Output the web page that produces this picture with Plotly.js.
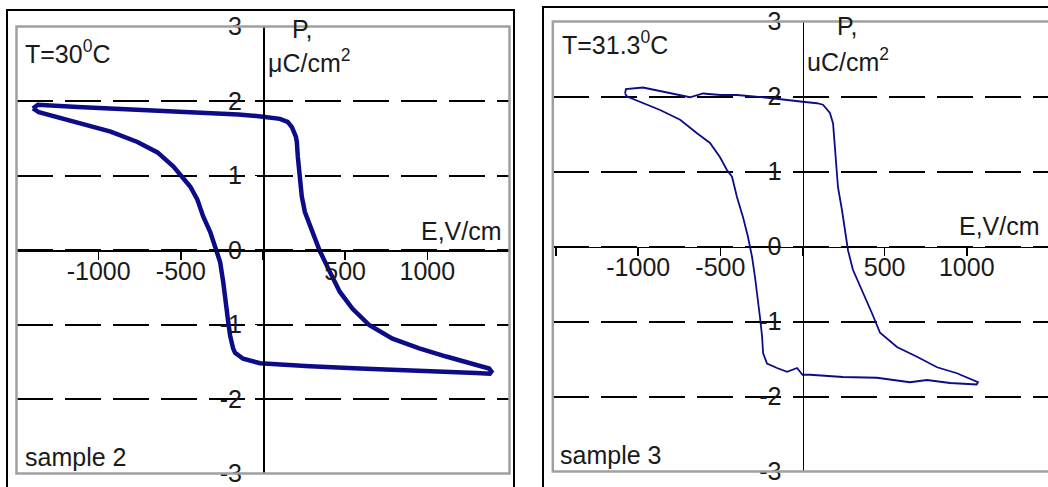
<!DOCTYPE html>
<html>
<head>
<meta charset="utf-8">
<script src="https://cdn.plot.ly/plotly-3.0.1.min.js"></script>
<style>
html,body{margin:0;padding:0;overflow:hidden;background:#fff;}
#chart{width:1056px;height:487px;}
</style>
</head>
<body>
<div id="chart"></div>
<script>
// ---- data ----
// sample 2, T = 30 C  (E in V/cm, P in uC/cm2), loop traced top branch then bottom branch
const s2E = [-1400,-1370,-1127,-900,-727,-500,-321,-150,0,103,150,176,200,206,212,224,236,255,280,303,345,406,467,545,648,788,951,1115,1255,1376,1390,
             1380,1297,994,588,285,100,-18,-121,-170,-182,-200,-212,-224,-242,-261,-291,-321,-364,-400,-442,-491,-545,-642,-764,-927,-1127,-1273,-1364,-1400];
const s2P = [1.90,1.95,1.92,1.90,1.88,1.86,1.84,1.82,1.79,1.76,1.72,1.65,1.52,1.45,1.25,0.99,0.72,0.51,0.36,0.24,-0.01,-0.29,-0.56,-0.79,-1.01,-1.19,-1.32,-1.43,-1.52,-1.59,-1.63,
             -1.66,-1.65,-1.63,-1.59,-1.56,-1.54,-1.52,-1.46,-1.38,-1.32,-1.15,-0.96,-0.69,-0.43,-0.16,0.05,0.24,0.45,0.68,0.85,0.99,1.12,1.31,1.45,1.59,1.71,1.79,1.85,1.90];

// sample 3, T = 31.3 C
const s3E = [-1080,-1075,-971,-806,-685,-605,-500,-399,-198,0,88,125,167,186,198,210,216,240,259,277,307,362,423,472,575,697,819,940,1038,1068,
             1060,898,758,654,453,246,46,0,-33,-94,-155,-216,-240,-246,-259,-271,-289,-307,-332,-362,-399,-429,-460,-502,-563,-642,-745,-867,-989,-1068,-1080];
const s3P = [2.04,2.10,2.12,2.04,1.99,2.04,2.02,2.02,1.98,1.93,1.91,1.89,1.78,1.64,1.29,1.02,0.79,0.49,0.18,-0.05,-0.31,-0.58,-0.89,-1.15,-1.34,-1.47,-1.61,-1.69,-1.78,-1.81,
             -1.84,-1.82,-1.78,-1.81,-1.75,-1.74,-1.71,-1.71,-1.62,-1.67,-1.62,-1.56,-1.42,-1.20,-0.94,-0.71,-0.41,-0.14,0.13,0.39,0.66,0.93,1.02,1.19,1.38,1.51,1.69,1.82,1.93,2.00,2.04];

const xTickVals = [-1500,-1000,-500,0,500,1000,1500];
const xTickText = ['','-1000','-500','','500','1000',''];
const yTickVals = [-3,-2,-1,0,1,2,3];
const yTickText = ['-3','-2','-1','0','1','2','3'];

const labels2 = {temp:'T=30<sup>0</sup>C', p:'P,', unit:'\u03bcC/cm<sup>2</sup>', e:'E,V/cm', sample:'sample 2'};
const labels3 = {temp:'T=31.3<sup>0</sup>C', p:'P,', unit:'uC/cm<sup>2</sup>', e:'E,V/cm', sample:'sample 3'};

// ---- layout helpers (pixel -> paper) ----
const W = 1056, H = 487;
const px = v => v / W;
const py = v => 1 - v / H;

const FONT = {family:'"Liberation Sans", Arial, sans-serif', size:25, color:'#1a1a1a'};
const NAVY = '#0c0c88';

function mainX(dom, rng, posY){
  return {domain:dom, range:rng, anchor:'free', position:posY, showline:true, linecolor:'#000', linewidth:1.5,
    ticks:'outside', ticklen:8, tickwidth:1.5, tickcolor:'#000', tickmode:'array', tickvals:xTickVals, ticktext:xTickText,
    ticklabelstandoff:-10, ticklabeloverflow:'allow',
    showgrid:false, zeroline:false, fixedrange:true, tickfont:FONT};
}
function mainY(dom, posX){
  return {domain:dom, range:[-3,3], anchor:'free', position:posX, showline:true, linecolor:'#000', linewidth:1.5,
    ticks:'outside', ticklen:8, tickwidth:1.5, tickcolor:'#000', tickmode:'array', tickvals:yTickVals, ticktext:yTickText,
    ticklabelstandoff:8, ticklabeloverflow:'allow',
    showgrid:true, griddash:'36px,12px', gridcolor:'#000', gridwidth:2,
    zeroline:false, fixedrange:true, tickfont:FONT};
}

const dom1x = [px(16.5), px(509.5)];
const dom1y = [(H-473.5)/H, (H-26.5)/H];
const dom2x = [px(552.8), px(1052.2)];
const dom2y = [(H-471.5)/H, (H-21.5)/H];

const layout = {
  width:W, height:H, margin:{l:0,r:0,t:0,b:0,pad:0},
  paper_bgcolor:'#fff', plot_bgcolor:'rgba(0,0,0,0)', showlegend:false, font:FONT,
  xaxis: mainX(dom1x, [-1500,1500], py(250)),
  yaxis: mainY(dom1y, px(263)),
  xaxis2: mainX(dom2x, [-1520,1520], py(246.5)),
  yaxis2: mainY(dom2y, px(802.5)),
  shapes: [
    {type:'rect', xref:'paper', yref:'paper', x0:dom1x[0], x1:dom1x[1], y0:dom1y[0], y1:dom1y[1], line:{color:'#a0a0a0', width:2.5}, layer:'above'},
    {type:'rect', xref:'paper', yref:'paper', x0:dom2x[0], x1:dom2x[1], y0:dom2y[0], y1:dom2y[1], line:{color:'#a0a0a0', width:2.5}, layer:'above'},
    {type:'rect', xref:'paper', yref:'paper', x0:px(7), x1:px(514), y0:py(500), y1:py(10), line:{color:'#000', width:2}, layer:'above'},
    {type:'rect', xref:'paper', yref:'paper', x0:px(543), x1:px(1070), y0:py(500), y1:py(7), line:{color:'#000', width:2}, layer:'above'}
  ],
  annotations: [
    {text:labels2.temp, x:px(23), y:py(52), xanchor:'left', yanchor:'middle'},
    {text:labels2.p, x:px(290), y:py(29), xanchor:'left', yanchor:'middle'},
    {text:labels2.unit, x:px(266), y:py(61), xanchor:'left', yanchor:'middle'},
    {text:labels2.e, x:px(504), y:py(231), xanchor:'right', yanchor:'middle'},
    {text:labels2.sample, x:px(23), y:py(457), xanchor:'left', yanchor:'middle'},
    {text:labels3.temp, x:px(560), y:py(43), xanchor:'left', yanchor:'middle'},
    {text:labels3.p, x:px(835), y:py(26), xanchor:'left', yanchor:'middle'},
    {text:labels3.unit, x:px(805), y:py(60), xanchor:'left', yanchor:'middle'},
    {text:labels3.e, x:px(1042), y:py(226), xanchor:'right', yanchor:'middle'},
    {text:labels3.sample, x:px(558), y:py(455), xanchor:'left', yanchor:'middle'}
  ].map(a => Object.assign({xref:'paper', yref:'paper', showarrow:false, font:FONT}, a))
};

const data = [
  {x:s2E, y:s2P, xaxis:'x', yaxis:'y', mode:'lines', line:{color:NAVY, width:4.5}, hoverinfo:'skip'},
  {x:s3E, y:s3P, xaxis:'x2', yaxis:'y2', mode:'lines', line:{color:NAVY, width:1.8}, hoverinfo:'skip'}
];

Plotly.newPlot('chart', data, layout, {staticPlot:true, displayModeBar:false});
</script>
</body>
</html>
